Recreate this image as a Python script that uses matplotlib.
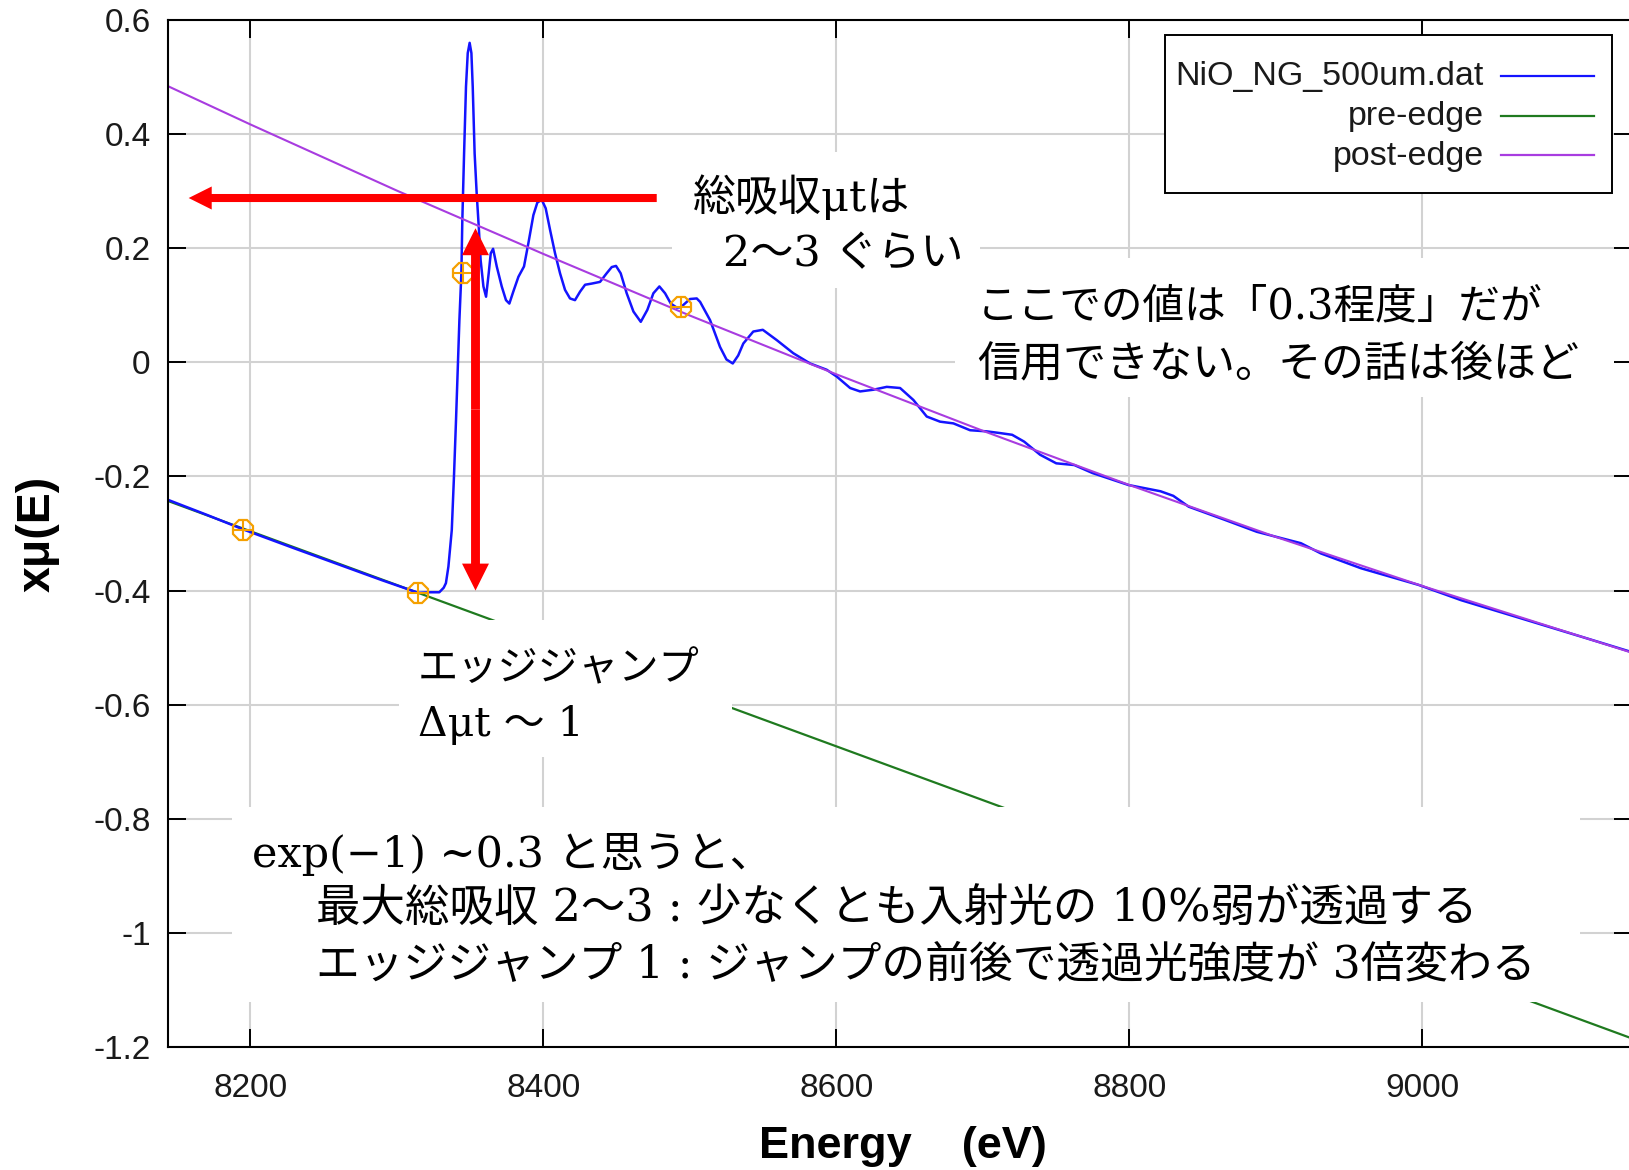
import matplotlib
matplotlib.use("Agg")
import matplotlib.pyplot as plt
import matplotlib.transforms as mtransforms
from matplotlib.patches import Rectangle, FancyArrowPatch, ArrowStyle
from matplotlib.lines import Line2D

# ---------------- data ----------------
# NiO K-edge transmission spectrum: energy (eV) and x*mu(E)
energy = [
    8143.8, 8170.0, 8195.3, 8230.0, 8260.0, 8290.0, 8314.7, 8322.0, 8329.0,
    8332.0, 8333.5, 8335.2, 8337.5, 8339.0, 8340.4, 8342.7, 8344.05, 8344.7,
    8345.9, 8347.2, 8348.4, 8349.7, 8350.9, 8351.8, 8353.1, 8354.5, 8355.9,
    8357.2, 8359.1, 8360.9, 8362.7, 8364.1, 8365.7, 8368.2, 8371.6, 8374.5,
    8376.8, 8379.5, 8383.0, 8386.8, 8389.8, 8393.2, 8395.9, 8398.9, 8401.6,
    8404.6, 8408.0, 8411.4, 8414.8, 8418.2, 8421.6, 8425.1, 8428.5, 8433.0,
    8438.7, 8443.2, 8446.7, 8449.6, 8452.8, 8456.9, 8461.5, 8466.5, 8471.0,
    8475.1, 8479.2, 8483.1, 8487.0, 8491.0, 8493.8, 8500.1, 8504.7, 8507.0,
    8513.8, 8520.6, 8525.0, 8529.3, 8533.0, 8536.5, 8543.3, 8549.8, 8559.3,
    8570.6, 8582.1, 8593.4, 8600.3, 8609.4, 8616.2, 8625.3, 8634.4, 8643.5,
    8652.6, 8661.7, 8670.8, 8679.9, 8691.3, 8702.7, 8711.8, 8720.0, 8728.2,
    8739.1, 8750.1, 8762.4, 8774.8, 8799.4, 8821.3, 8830.0, 8840.5, 8865.1,
    8887.0, 8903.5, 8917.1, 8930.8, 8958.2, 8997.3, 9026.6, 9067.7, 9108.7,
    9143.1,
]
xmu = [
    -0.241, -0.267, -0.293, -0.326, -0.354, -0.382, -0.404, -0.403, -0.403,
    -0.395, -0.387, -0.358, -0.294, -0.200, -0.101, 0.074, 0.156, 0.249,
    0.366, 0.483, 0.542, 0.560, 0.542, 0.483, 0.366, 0.296, 0.238,
    0.179, 0.133, 0.115, 0.156, 0.191, 0.199, 0.168, 0.133, 0.109,
    0.103, 0.124, 0.150, 0.168, 0.209, 0.258, 0.280, 0.285, 0.270,
    0.232, 0.191, 0.156, 0.127, 0.112, 0.109, 0.124, 0.136, 0.138,
    0.141, 0.156, 0.167, 0.169, 0.156, 0.121, 0.089, 0.071, 0.092,
    0.121, 0.133, 0.121, 0.103, 0.096, 0.0965, 0.111, 0.112, 0.106,
    0.074, 0.027, 0.005, -0.002, 0.012, 0.033, 0.054, 0.057, 0.039,
    0.016, -0.002, -0.013, -0.025, -0.045, -0.051, -0.048, -0.043, -0.045,
    -0.066, -0.095, -0.104, -0.107, -0.119, -0.121, -0.124, -0.127, -0.139,
    -0.162, -0.177, -0.180, -0.194, -0.215, -0.226, -0.234, -0.253, -0.276,
    -0.297, -0.308, -0.317, -0.335, -0.361, -0.390, -0.417, -0.449, -0.481,
    -0.508,
]

# pre-edge line
pre_edge_energy = [8143.8, 9143.1]
pre_edge_xmu = [-0.243, -1.185]

# post-edge curve
post_edge_energy = [8143.8, 8200, 8300, 8400, 8500, 8600, 8700, 8800, 8900, 9000, 9143.1]
post_edge_xmu = [0.484, 0.417, 0.301, 0.190, 0.082, -0.021, -0.120, -0.215, -0.306, -0.392, -0.509]

# normalization range points (pre1, pre2, nor1, nor2)
norm_energy = [8195.3, 8314.7, 8345.0, 8493.8]
norm_xmu = [-0.293, -0.404, 0.156, 0.0965]

# annotation arrows: total absorption level and edge jump
total_abs_level = 0.288
total_abs_from, total_abs_to = 8477.4, 8157.9
jump_energy = 8353.7
jump_top, jump_bottom = 0.235, -0.400

xticks = [8200, 8400, 8600, 8800, 9000]
xtick_labels = ["8200", "8400", "8600", "8800", "9000"]
yticks = [0.6, 0.4, 0.2, 0.0, -0.2, -0.4, -0.6, -0.8, -1.0, -1.2]
ytick_labels = ["0.6", "0.4", "0.2", "0", "-0.2", "-0.4", "-0.6", "-0.8", "-1", "-1.2"]

legend_labels = ["NiO_NG_500um.dat", "pre-edge", "post-edge"]

# ---------------- styles ----------------
W, H = 1629, 1170
C_DATA = "#1414ff"
C_PRE = "#1f7a1f"
C_POST = "#a83ce0"
C_MARK = "#f5a000"
C_ARROW = "#ff0000"
C_GRID = "#d2d2d2"

SANS = ["Liberation Sans", "DejaVu Sans"]
MIXED = ["DejaVu Serif", "Noto Sans CJK JP", "DejaVu Sans"]

plt.rcParams["font.family"] = SANS

fig = plt.figure(figsize=(W / 100, H / 100), dpi=100)
fig.patch.set_facecolor("white")

# axes box in pixels (left, top, right, bottom)
L, T, R, B = 168, 20, 1632, 1047
ax = fig.add_axes([L / W, 1 - B / H, (R - L) / W, (B - T) / H])
ax.set_xlim(8143.8, 9143.1)
ax.set_ylim(-1.2, 0.6)

# pixel coordinates measured from the top-left of the figure
px = mtransforms.Affine2D().scale(1 / W, -1 / H).translate(0, 1) + fig.transFigure

ax.set_xticks(xticks)
ax.set_xticklabels(xtick_labels)
ax.set_yticks(yticks)
ax.set_yticklabels(ytick_labels)
ax.tick_params(direction="in", length=13, width=1.4, top=True, right=True,
               labelsize=24, labelcolor="#1a1a1a", color="black")
ax.tick_params(axis="x", pad=19)
ax.tick_params(axis="y", pad=12.5)
for s in ax.spines.values():
    s.set_linewidth(1.5)
    s.set_color("black")
ax.grid(True, color=C_GRID, linewidth=1.5)
ax.set_axisbelow(True)

ax.set_xlabel("Energy    (eV)", fontsize=32.5, fontweight="bold", va="baseline")
ax.xaxis.set_label_coords(0.5017, -(1158 - B) / (B - T))
ax.set_ylabel("xμ(E)", fontsize=33.5, fontweight="bold", va="center", ha="center")
ax.yaxis.set_label_coords(-(L - 38) / (R - L), 0.5)

# curves
ax.plot(pre_edge_energy, pre_edge_xmu, color=C_PRE, lw=1.6, zorder=2)
ax.plot(post_edge_energy, post_edge_xmu, color=C_POST, lw=1.5, zorder=2.2)
ax.plot(energy, xmu, color=C_DATA, lw=1.8, zorder=2.1)
ax.plot(norm_energy, norm_xmu, ls="none", marker="8", ms=16, mfc="none",
        mec=C_MARK, mew=1.6, zorder=3)
ax.plot(norm_energy, norm_xmu, ls="none", marker="+", ms=14, mec=C_MARK,
        mew=1.5, zorder=3)

# white panels behind the annotations
panels = [
    (672, 152, 980, 288),
    (955, 258, 1614, 397),
    (399, 620, 732, 757),
    (232, 807, 1580, 1002),
]
for x0, y0, x1, y1 in panels:
    ax.add_patch(Rectangle((x0, y0), x1 - x0, y1 - y0, transform=px,
                           facecolor="white", edgecolor="none", zorder=4,
                           clip_on=False))

# annotation text: (x, baseline, text, size)
notes = [
    (693, 211, "総吸収μtは", 31),
    (723, 266, "2〜3 ぐらい", 31),
    (977, 318, "ここでの値は「0.3程度」だが", 30),
    (977, 376, "信用できない。その話は後ほど", 31),
    (418, 680, "エッジジャンプ", 29),
    (418, 736, "Δμt 〜 1", 29.5),
    (252, 867, "exp(−1) ~0.3 と思うと、", 31),
    (316, 922, "最大総吸収 2〜3 : 少なくとも入射光の 10%弱が透過する", 32),
    (316, 978, "エッジジャンプ 1 : ジャンプの前後で透過光強度が 3倍変わる", 31.5),
]
for x, y, s, fs in notes:
    ax.text(x, y, s, transform=px, fontsize=fs, family=MIXED, ha="left",
            va="baseline", color="black", zorder=5, clip_on=False)

# arrows
h_style = ArrowStyle.Simple(head_length=0.83, head_width=0.83, tail_width=0.29)
ax.add_patch(FancyArrowPatch((total_abs_from, total_abs_level),
                             (total_abs_to, total_abs_level),
                             arrowstyle=h_style, mutation_scale=20,
                             color=C_ARROW, lw=0, shrinkA=0, shrinkB=0, zorder=6))
v_style = ArrowStyle.Simple(head_length=0.97, head_width=0.97, tail_width=0.32)
mid = (jump_top + jump_bottom) / 2
for tip in (jump_top, jump_bottom):
    ax.add_patch(FancyArrowPatch((jump_energy, mid), (jump_energy, tip),
                                 arrowstyle=v_style, mutation_scale=20,
                                 color=C_ARROW, lw=0, shrinkA=0, shrinkB=0,
                                 zorder=6))

# legend box
ax.add_patch(Rectangle((1165, 35), 1612 - 1165, 193 - 35, transform=px,
                       facecolor="white", edgecolor="black", lw=1.4,
                       zorder=4, clip_on=False))
for (y, label, c) in zip([77, 117, 156], legend_labels, [C_DATA, C_PRE, C_POST]):
    ax.text(1484, y, label, transform=px, fontsize=24.5, ha="right", va="center",
            color="#1a1a1a", zorder=5, clip_on=False)
    ax.add_line(Line2D([1501, 1594], [y - 1, y - 1], transform=px, color=c, lw=1.6,
                       zorder=5, clip_on=False))

fig.savefig("out.png", dpi=100)
